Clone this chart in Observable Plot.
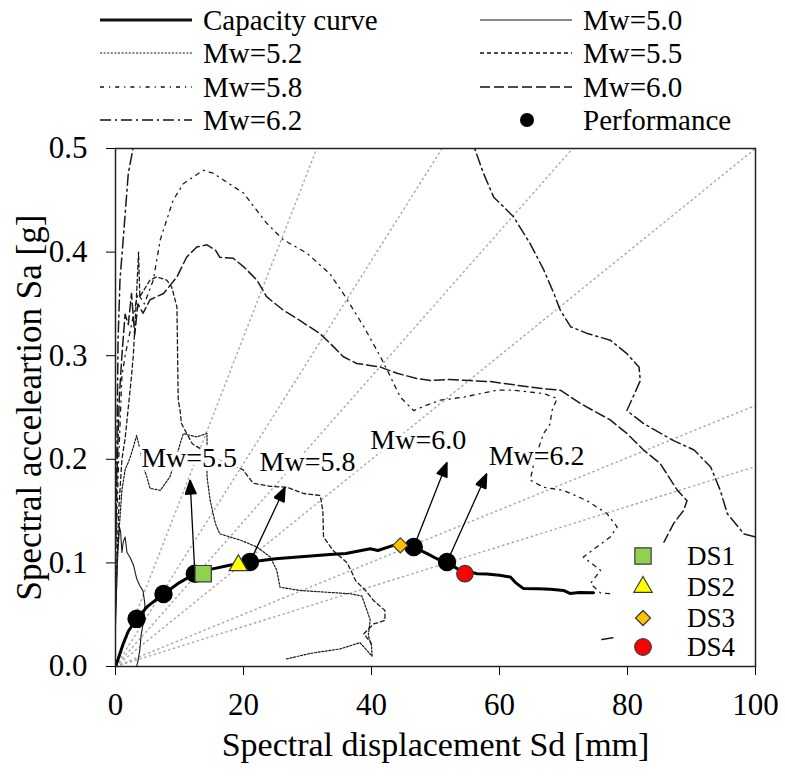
<!DOCTYPE html>
<html>
<head>
<meta charset="utf-8">
<script src="https://cdn.jsdelivr.net/npm/d3@7"></script>
<script src="https://cdn.jsdelivr.net/npm/@observablehq/plot@0.6"></script>
<style>
  body { margin: 0; background: #fff; }
  #wrap { position: relative; width: 785px; height: 776px; font-family: "Liberation Serif", "DejaVu Serif", "Noto Serif", serif; color: #000; }
  .leg { position: absolute; height: 34px; display: flex; align-items: center; white-space: nowrap; line-height: 1; z-index: 2; }
  .leg svg { display: block; }
  .leg span { position: absolute; }
</style>
</head>
<body>
<div id="wrap"></div>
<script>
// ---- capacity curve (Sd [mm], Sa [g]) ----
const capacity = [[0,0],[0.5,0.009],[1.2,0.022],[2,0.034],[3.3,0.046],[5,0.058],[7.5,0.07],[10,0.081],
  [12.4,0.0896],[15,0.094],[18,0.098],[21,0.1008],[25,0.104],[29,0.106],[33.5,0.108],[36,0.109],
  [39.8,0.1137],[41,0.112],[43.4,0.1169],[44.5,0.1175],[46.6,0.1153],[48.7,0.109],[50.2,0.104],
  [51.8,0.1008],[53.5,0.094],[55,0.092],[56.5,0.0896],[58,0.0893],[60,0.088],[61.7,0.0863],
  [62.5,0.081],[63.7,0.0754],[66,0.075],[68,0.0745],[70,0.0734],[71,0.0705],[72.5,0.0715],[74.7,0.0712]];

// ---- demand spectra (ADRS) per magnitude ----
const mw50 = [[0,0.04],[0.15,0.07],[0.3,0.11],[0.5,0.125],[0.6,0.135],[0.8,0.13],[1.0,0.11],[1.2,0.12],
  [1.5,0.125],[1.8,0.11],[2.3,0.105],[2.8,0.098],[3.3,0.085],[3.8,0.078],[4.3,0.073],[4.6,0.06],
  [4.4,0.045],[4.0,0.03],[3.8,0.016],[3.5,0.005],[3.3,0]];
const mw52 = [[0,0.05],[0.3,0.1],[0.6,0.135],[1,0.17],[1.5,0.19],[2.2,0.2],[2.8,0.212],[3.3,0.223],
  [3.8,0.21],[4.5,0.19],[4.9,0.183],[5.4,0.172],[7,0.17],[8.5,0.183],[9.4,0.2],[10.1,0.215],
  [10.6,0.2248],[12.7,0.2216],[14.3,0.225],[14.3,0.183],[14.8,0.16],[15.6,0.138],[16.3,0.128],
  [19.5,0.122],[22.1,0.1153],[24.2,0.1056],[25.2,0.0928],[25.7,0.0766],[28.8,0.0734],[36.7,0.0702],
  [38.5,0.068],[39.8,0.045],[39.5,0.03],[40,0.02],[40.1,0.01],[38.2,0.023],[35.1,0.017],
  [30.4,0.0126],[26.5,0.007]];
const mw55 = [[0,0.06],[0.5,0.15],[1,0.2],[1.5,0.22],[2,0.25],[2.5,0.28],[2.8,0.302],[3.3,0.36],
  [3.6,0.4],[3.8,0.357],[5.4,0.373],[6.4,0.376],[8,0.373],[8.8,0.366],[9.6,0.347],[9.8,0.257],
  [10.1,0.247],[10.3,0.2345],[12,0.215],[16,0.2],[19.9,0.19],[21.5,0.177],[24,0.174],[26.8,0.173],
  [29.4,0.167],[32,0.165],[32.4,0.15],[32.5,0.125],[34,0.112],[36.2,0.1],[37,0.09],[37.5,0.083],
  [39.3,0.0718],[40.3,0.0638],[42.1,0.054],[42.1,0.0444],[40.3,0.041],[38.8,0.0316],[40,0.022]];
const mw58 = [[0,0.1],[0.5,0.2],[1,0.28],[1.5,0.3],[2.5,0.33],[3.5,0.36],[4.5,0.35],[5.9,0.373],
  [7,0.412],[9,0.45],[10.6,0.466],[13.7,0.479],[15.3,0.476],[20,0.457],[23.6,0.428],[26.2,0.412],
  [29.9,0.399],[33.5,0.379],[35.6,0.36],[38.8,0.328],[41.4,0.299],[42.7,0.283],[44.5,0.26],
  [46.6,0.247],[48.5,0.252],[50.7,0.257],[54.4,0.26],[59.6,0.2667],[62.2,0.2667],[66.9,0.2635],
  [69,0.2587],[68.2,0.247],[67.9,0.234],[66.9,0.225],[65.5,0.2],[64.8,0.18],[66.9,0.173],[70,0.17],
  [73.7,0.16],[76.8,0.1475],[78.4,0.1346],[77.3,0.125],[75.2,0.1153],[73.1,0.1056],[75.8,0.0928],
  [74.2,0.08],[75.8,0.071],[77.8,0.07]];
const mw60 = [[0,0.12],[0.3,0.2],[0.6,0.26],[1,0.3],[1.5,0.34],[2,0.33],[2.5,0.36],[3,0.32],[3.5,0.35],
  [4.3,0.341],[5.4,0.354],[7.5,0.36],[9.6,0.376],[11.1,0.395],[12.7,0.405],[14.3,0.407],[15.6,0.402],
  [16.3,0.395],[18.4,0.394],[20,0.386],[22.1,0.373],[23.6,0.357],[26.2,0.344],[28.8,0.334],[32,0.321],
  [34.1,0.3085],[35.6,0.299],[37.7,0.2925],[41.4,0.289],[44,0.283],[47.1,0.278],[49.2,0.276],
  [52.3,0.277],[55.4,0.276],[58.6,0.275],[62.7,0.2715],[66.9,0.268],[69.5,0.2667],[72.6,0.254],
  [77.3,0.238],[79.9,0.225],[82.5,0.209],[85.1,0.196],[87.8,0.17],[89.3,0.16],[88.8,0.151],
  [87.2,0.138],[85.7,0.12]];
const mw62 = [[0,0.1],[0.2,0.2],[0.4,0.315],[0.7,0.373],[1.2,0.412],[2.0,0.476],[2.8,0.502],[4,0.65],
  [20,0.9],[45,0.8],[54,0.56],[56,0.502],[57.5,0.476],[59.1,0.453],[60.6,0.444],[62.2,0.434],
  [64.8,0.408],[66.9,0.383],[68.5,0.36],[69.5,0.344],[71.1,0.328],[73.7,0.3215],[77.3,0.315],
  [79.9,0.302],[81.8,0.289],[82,0.276],[81,0.262],[79.9,0.247],[82.5,0.2345],[87.2,0.218],
  [90.4,0.209],[93,0.1926],[94.5,0.17],[95.6,0.1475],[98.2,0.128],[100,0.125],[102,0.12],
  [null,null],[76,0.026],[78,0.028]];

// ---- performance points, one per magnitude ----
const perfMw = ["5.0","5.2","5.5","5.8","6.0","6.2"];
const perfSd = [3.3, 7.5, 12.4, 21.0, 46.6, 51.8];
const perfSa = [0.046, 0.070, 0.0896, 0.1008, 0.1153, 0.1008];

// ---- period lines from the origin (Sa/Sd slope, g per mm) ----
const periodSlopes = [0.0159, 0.0098, 0.0070, 0.0050, 0.00252, 0.00193];

// ---- damage state thresholds ----
const dsNames = ["DS1","DS2","DS3","DS4"];
const dsSd = [13.7, 19.2, 44.5, 54.6];
const dsSa = [0.0896, 0.0976, 0.1169, 0.0896];
const dsFill = ["#92d050","#ffff00","#ffc000","#ff0000"];
const dsSymbol = ["square","triangle","diamond2","circle"];
const dsR = [9.2, 6.8, 6.8, 8.3];

// ---- magnitude call-outs: arrow from a performance point to its label ----
const calloutText = ["Mw=5.5","Mw=5.8","Mw=6.0","Mw=6.2"];
const calloutFrom = [2, 3, 4, 5];            // index into performance points
const calloutTipSd = [11.65, 26.5, 51.8, 58.0];
const calloutTipSa = [0.18, 0.173, 0.197, 0.186];
const calloutLabelSd = [11.5, 30.0, 47.3, 65.8];
const calloutLabelSa = [0.201, 0.197, 0.219, 0.203];

// ---- axis ticks ----
const xTicks = [0, 20, 40, 60, 80, 100];
const yTicks = [0, 0.1, 0.2, 0.3, 0.4, 0.5];

// ---- line styles ----
const series = [
  {name: "Mw=5.0", pts: mw50, dash: null,        width: 1.1},
  {name: "Mw=5.2", pts: mw52, dash: "2,1.6",     width: 1.2},
  {name: "Mw=5.5", pts: mw55, dash: "4,3",       width: 1.3},
  {name: "Mw=5.8", pts: mw58, dash: "4,5,1.2,5", width: 1.3},
  {name: "Mw=6.0", pts: mw60, dash: "10,4",      width: 1.5},
  {name: "Mw=6.2", pts: mw62, dash: "11,4,2,4",  width: 1.5}
];

const FONT = '"Liberation Serif", "DejaVu Serif", "Noto Serif", serif';
const toRows = pts => pts.map(([sd, sa]) => ({sd, sa}));

const perf = perfSd.map((sd, i) => ({mw: perfMw[i], sd, sa: perfSa[i]}));
const rays = periodSlopes.map(k => (k * 100 <= 0.5)
  ? {x1: 0, y1: 0, x2: 100, y2: k * 100}
  : {x1: 0, y1: 0, x2: 0.5 / k, y2: 0.5});
const ds = dsNames.map((n, i) => ({n, sd: dsSd[i], sa: dsSa[i], fill: dsFill[i], symbol: dsSymbol[i], r: dsR[i]}));
const callouts = calloutText.map((t, i) => ({
  t, sd0: perf[calloutFrom[i]].sd, sa0: perf[calloutFrom[i]].sa,
  sd1: calloutTipSd[i], sa1: calloutTipSa[i], lx: calloutLabelSd[i], ly: calloutLabelSa[i]
}));

// filled triangular arrow head
function filledHead(color) {
  return d3.create("svg:marker")
    .attr("viewBox", "-15 -6 16 12")
    .attr("markerWidth", 16).attr("markerHeight", 12)
    .attr("refX", 0).attr("refY", 0)
    .attr("markerUnits", "userSpaceOnUse")
    .attr("orient", "auto")
    .call(m => m.append("path").attr("d", "M0,0L-14,-5.5L-14,5.5Z").attr("fill", color))
    .node();
}

function build(head) {
  return Plot.plot({
    width: 785, height: 776,
    marginTop: 148, marginBottom: 110, marginLeft: 115, marginRight: 30,
    style: {fontFamily: FONT, fontSize: "31px", background: "transparent", color: "#000", overflow: "visible"},
    x: {domain: [0, 100], ticks: xTicks, tickSize: 9, tickPadding: 17, label: null},
    y: {domain: [0, 0.5], ticks: yTicks, tickSize: 9, tickPadding: 19, tickFormat: d3.format(".1f"), label: null},
    marks: [
      Plot.link(rays, {x1: "x1", y1: "y1", x2: "x2", y2: "y2", stroke: "#a8a8a8", strokeWidth: 1.4, strokeDasharray: "2.5,2.5"}),
      ...series.map(s => Plot.line(toRows(s.pts), {
        x: "sd", y: "sa", stroke: "#1a1a1a", strokeWidth: s.width,
        strokeDasharray: s.dash || undefined, curve: "linear", clip: true
      })),
      Plot.line(toRows(capacity), {x: "sd", y: "sa", stroke: "#000", strokeWidth: 3, clip: true}),
      Plot.text(callouts, {x: "lx", y: "ly", text: "t", fontSize: 28, fill: "#000", lineAnchor: "middle",
        stroke: "#fff", strokeWidth: 7}),
      Plot.link(callouts, {x1: "sd0", y1: "sa0", x2: "sd1", y2: "sa1", stroke: "#000", strokeWidth: 1.3, markerEnd: head}),
      Plot.dot(perf, {x: "sd", y: "sa", r: 8.5, fill: "#000", stroke: "#000"}),
      ...ds.map(d => Plot.dot([d], {x: "sd", y: "sa", symbol: d.symbol, r: d.r, fill: d.fill, stroke: "#3a3a3a", strokeWidth: 1.2})),
      Plot.text(["Spectral displacement Sd [mm]"], {frameAnchor: "bottom", dy: 79, fontSize: 34, lineAnchor: "middle", textAnchor: "middle", fill: "#000"}),
      Plot.text(["Spectral acceleartion Sa [g]"], {frameAnchor: "left", dx: -86, rotate: -90, fontSize: 35, lineAnchor: "middle", textAnchor: "middle", fill: "#000"}),
      Plot.frame({stroke: "#222", strokeWidth: 1.5})
    ]
  });
}

let chart;
try { chart = build(filledHead); } catch (e) { chart = build("arrow"); }

const wrap = document.getElementById("wrap");
wrap.appendChild(chart);

// ---- legend above the axes ----
const legendItems = [
  {label: "Capacity curve", kind: "line", dash: null, width: 3.2, x: 100, y: 20},
  {label: "Mw=5.0", kind: "line", dash: null, width: 1.1, x: 480, y: 20},
  {label: "Mw=5.2", kind: "line", dash: "2,1.6", width: 1.2, x: 100, y: 53},
  {label: "Mw=5.5", kind: "line", dash: "4,3", width: 1.3, x: 480, y: 53},
  {label: "Mw=5.8", kind: "line", dash: "4,5,1.2,5", width: 1.3, x: 100, y: 87},
  {label: "Mw=6.0", kind: "line", dash: "10,4", width: 1.5, x: 480, y: 87},
  {label: "Mw=6.2", kind: "line", dash: "11,4,2,4", width: 1.5, x: 100, y: 120},
  {label: "Performance", kind: "dot", x: 480, y: 120}
];
for (const it of legendItems) {
  const div = document.createElement("div");
  div.className = "leg";
  div.style.left = it.x + "px";
  div.style.top = (it.y - 17) + "px";
  div.style.fontSize = "29px";
  const svg = d3.create("svg").attr("width", 92).attr("height", 34);
  if (it.kind === "line") {
    svg.append("line").attr("x1", 0).attr("x2", 92).attr("y1", 17).attr("y2", 17)
      .attr("stroke", "#111").attr("stroke-width", it.width)
      .attr("stroke-dasharray", it.dash);
  } else {
    svg.append("circle").attr("cx", 47).attr("cy", 17).attr("r", 7).attr("fill", "#000");
  }
  div.appendChild(svg.node());
  const span = document.createElement("span");
  span.textContent = it.label;
  span.style.left = "103px";
  div.appendChild(span);
  wrap.appendChild(div);
}

// ---- damage-state key inside the plot ----
const dsKeyY = [556, 587, 618, 647];
ds.forEach((d, i) => {
  const div = document.createElement("div");
  div.className = "leg";
  div.style.left = "626px";
  div.style.top = (dsKeyY[i] - 17) + "px";
  div.style.fontSize = "27px";
  const svg = d3.create("svg").attr("width", 34).attr("height", 34);
  const sym = {square: d3.symbolSquare, triangle: d3.symbolTriangle, diamond2: d3.symbolDiamond2, circle: d3.symbolCircle}[d.symbol];
  svg.append("path").attr("transform", "translate(17,17)")
    .attr("d", d3.symbol(sym, Math.PI * d.r * d.r)())
    .attr("fill", d.fill).attr("stroke", "#3a3a3a").attr("stroke-width", 1.2);
  div.appendChild(svg.node());
  const span = document.createElement("span");
  span.textContent = d.n;
  span.style.left = "61px";
  div.appendChild(span);
  wrap.appendChild(div);
});
</script>
</body>
</html>
